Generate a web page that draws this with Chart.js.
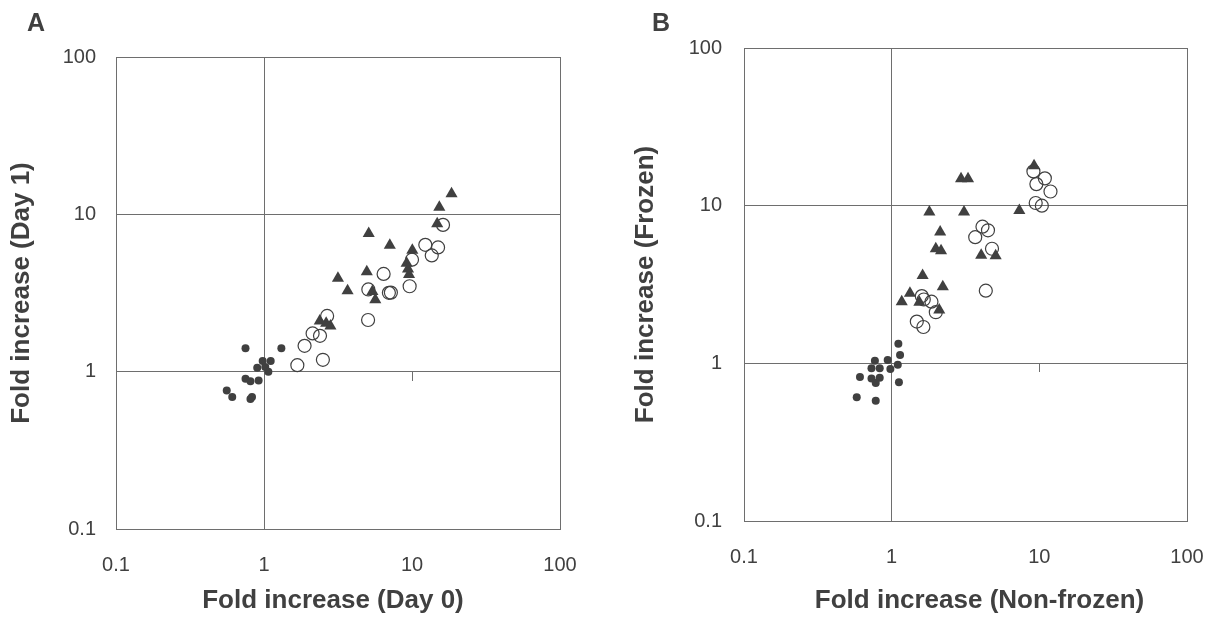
<!DOCTYPE html>
<html>
<head>
<meta charset="utf-8">
<script src="https://cdn.jsdelivr.net/npm/chart.js@4"></script>
<style>
    body { margin: 0; background: #fff; }
    .panel { position: absolute; top: 0; width: 606px; height: 617px; }
    .tag { position: absolute; top: 8px; font: bold 25px "Liberation Sans", Arial, sans-serif; color: #404040; }
</style>
</head>
<body>
<div class="panel" style="left:0"><canvas id="chartA" width="606" height="617"></canvas></div>
<div class="panel" style="left:606px"><canvas id="chartB" width="606" height="617"></canvas></div>
<div class="tag" style="left:27px">A</div>
<div class="tag" style="left:652px">B</div>
<script>
// axis ticks (both panels)
const tickValues = [0.1, 1, 10, 100];
const tickLabels = ["0.1", "1", "10", "100"];

// panel A: Day 0 (x) vs Day 1 (y)
const aDotX = [0.75, 1.31, 0.98, 1.11, 0.90, 1.02, 1.07, 0.75, 0.81, 0.92, 0.56, 0.61, 0.81, 0.83];
const aDotY = [1.41, 1.41, 1.17, 1.17, 1.06, 1.07, 1.00, 0.90, 0.87, 0.88, 0.76, 0.69, 0.67, 0.69];
const aOpenX = [1.68, 2.50, 1.88, 2.13, 2.39, 2.67, 5.05, 5.07, 6.43, 6.98, 7.20, 9.64, 10.0, 12.3, 13.6, 15.0, 16.2];
const aOpenY = [1.10, 1.19, 1.46, 1.75, 1.69, 2.26, 2.13, 3.33, 4.18, 3.17, 3.18, 3.49, 5.15, 6.40, 5.48, 6.16, 8.57];
const aTriX = [2.38, 2.63, 2.81, 3.16, 3.67, 4.95, 5.10, 5.40, 5.65, 7.08, 9.20, 9.40, 9.55, 10.05, 14.8, 15.3, 18.5];
const aTriY = [2.10, 2.03, 1.95, 3.92, 3.27, 4.32, 7.55, 3.23, 2.86, 6.37, 4.88, 4.49, 4.15, 5.92, 8.72, 11.1, 13.5];

// panel B: Non-frozen (x) vs Frozen (y)
const bDotX = [1.11, 1.14, 0.77, 0.94, 0.73, 0.83, 0.98, 1.10, 0.61, 0.73, 0.83, 0.78, 1.12, 0.58, 0.78];
const bDotY = [1.33, 1.13, 1.04, 1.05, 0.93, 0.93, 0.92, 0.98, 0.82, 0.80, 0.81, 0.75, 0.76, 0.61, 0.58];
const bOpenX = [1.48, 1.64, 1.60, 1.65, 1.86, 1.99, 4.34, 3.68, 4.12, 4.49, 4.78, 9.12, 10.9, 9.55, 11.9, 9.45, 10.4];
const bOpenY = [1.84, 1.70, 2.67, 2.54, 2.46, 2.11, 2.89, 6.31, 7.36, 6.98, 5.33, 16.5, 14.9, 13.7, 12.3, 10.4, 10.0];
const bTriX = [1.17, 1.33, 1.62, 1.54, 2.10, 2.22, 1.80, 2.13, 1.99, 2.16, 2.95, 3.29, 3.09, 4.04, 5.06, 7.32, 9.21];
const bTriY = [2.46, 2.78, 3.60, 2.44, 2.18, 3.06, 9.10, 6.80, 5.33, 5.17, 14.8, 14.8, 9.10, 4.85, 4.81, 9.33, 17.9];

const ink = "#404040";
const lineColor = "#6e6e6e";
const fontFamily = '"Liberation Sans", Arial, sans-serif';

Chart.defaults.font.family = fontFamily;

function pts(xs, ys) {
    return xs.map(function (x, i) { return { x: x, y: ys[i] }; });
}

// small tick mark under the y=1 line at x=10
const midTick = {
    id: "midTick",
    beforeDatasetsDraw(chart) {
        const { ctx, scales: { x, y } } = chart;
        const px = Math.round(x.getPixelForValue(10)) + 0.5;
        const py = Math.round(y.getPixelForValue(1));
        ctx.save();
        ctx.strokeStyle = lineColor;
        ctx.lineWidth = 1;
        ctx.beginPath();
        ctx.moveTo(px, py);
        ctx.lineTo(px, py + 9);
        ctx.stroke();
        ctx.restore();
    },
};

// x axis title, drawn so it can sit a little off the plot centre like the original
const xTitle = {
    id: "xTitle",
    afterDraw(chart, args, opts) {
        const { ctx, chartArea } = chart;
        ctx.save();
        ctx.font = "bold 26px " + fontFamily;
        ctx.fillStyle = ink;
        ctx.textAlign = "center";
        ctx.textBaseline = "middle";
        ctx.fillText(opts.text, (chartArea.left + chartArea.right) / 2 + opts.shift, chart.height - 16);
        ctx.restore();
    },
};

function setTicks(scale) {
    scale.ticks = tickValues.map(function (v) { return { value: v }; });
}

function makeChart(id, o) {
    new Chart(document.getElementById(id).getContext("2d"), {
        type: "scatter",
        data: {
            datasets: [
                {
                    label: "open",
                    data: pts(o.openX, o.openY),
                    pointStyle: "circle",
                    pointRadius: 6.5,
                    backgroundColor: "rgba(255,255,255,0)",
                    borderColor: ink,
                    borderWidth: 1.2,
                },
                {
                    label: "triangle",
                    data: pts(o.triX, o.triY),
                    pointStyle: "triangle",
                    pointRadius: 7,
                    backgroundColor: ink,
                    borderColor: ink,
                    borderWidth: 0,
                },
                {
                    label: "dot",
                    data: pts(o.dotX, o.dotY),
                    pointStyle: "circle",
                    pointRadius: 4,
                    backgroundColor: ink,
                    borderColor: ink,
                    borderWidth: 0,
                },
            ],
        },
        options: {
            responsive: false,
            animation: false,
            layout: { padding: { top: o.padTop, right: o.padRight, left: 0, bottom: 0 } },
            plugins: {
                legend: { display: false },
                tooltip: { enabled: false },
                xTitle: { text: o.xTitle, shift: o.xTitleShift },
            },
            scales: {
                x: {
                    type: "logarithmic",
                    min: 0.1,
                    max: 100,
                    afterBuildTicks: setTicks,
                    afterFit: function (s) {
                        s.height = o.xHeight;
                        s.paddingLeft = 0;
                        s.paddingRight = 0;
                    },
                    grid: {
                        drawTicks: false,
                        color: function (c) {
                            return c.tick && c.tick.value === 10 ? "rgba(0,0,0,0)" : lineColor;
                        },
                    },
                    border: { color: lineColor },
                    ticks: {
                        padding: 24,
                        color: ink,
                        font: { size: 20 },
                        maxRotation: 0,
                        callback: function (v) { return tickLabels[tickValues.indexOf(v)]; },
                    },
                },
                y: {
                    type: "logarithmic",
                    min: 0.1,
                    max: 100,
                    afterBuildTicks: setTicks,
                    afterFit: function (s) {
                        s.width = o.yWidth;
                        s.paddingTop = 0;
                        s.paddingBottom = 0;
                    },
                    grid: { drawTicks: false, color: lineColor },
                    border: { color: lineColor },
                    ticks: {
                        padding: o.yTickPad,
                        color: ink,
                        font: { size: 20 },
                        callback: function (v) { return tickLabels[tickValues.indexOf(v)]; },
                    },
                    title: {
                        display: true,
                        text: o.yTitle,
                        color: ink,
                        font: { size: 26, weight: "bold" },
                        padding: { top: o.yTitlePad, bottom: 0 },
                    },
                },
            },
        },
        plugins: [midTick, xTitle],
    });
}

document.addEventListener("DOMContentLoaded", function () {
    makeChart("chartA", {
        dotX: aDotX, dotY: aDotY, openX: aOpenX, openY: aOpenY, triX: aTriX, triY: aTriY,
        xTitle: "Fold increase (Day 0)",
        yTitle: "Fold increase (Day 1)",
        xTitleShift: -5,
        padTop: 57, padRight: 46, yWidth: 116, xHeight: 88, yTickPad: 20, yTitlePad: 6,
    });
    makeChart("chartB", {
        dotX: bDotX, dotY: bDotY, openX: bOpenX, openY: bOpenY, triX: bTriX, triY: bTriY,
        xTitle: "Fold increase (Non-frozen)",
        yTitle: "Fold increase (Frozen)",
        xTitleShift: 14,
        padTop: 48, padRight: 25, yWidth: 138, xHeight: 96, yTickPad: 22, yTitlePad: 24,
    });
});
</script>
</body>
</html>
